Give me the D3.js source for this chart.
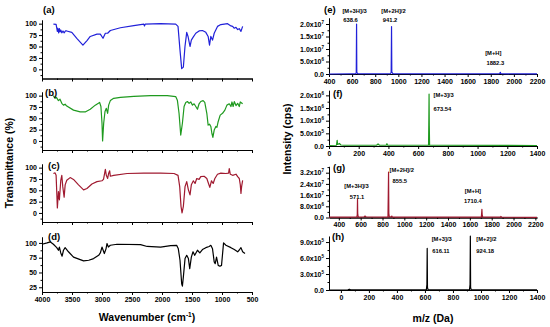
<!DOCTYPE html>
<html><head><meta charset="utf-8">
<script src="https://cdn.jsdelivr.net/npm/d3@7"></script>
<style>
body{margin:0;background:#fff}
svg text{font-family:"Liberation Sans",Arial,sans-serif;font-weight:bold;fill:#000}
</style>
</head><body>
<svg id="c" width="550" height="327"></svg>
<script>
// ---------- IR (FTIR) data: wavenumber (cm-1) and transmittance (%) ----------
const irA_wn = [3810,3765,3744,3735,3722,3710,3698,3687,3670,3650,3630,3610,3587,3503,3420,3318,3250,3196,3084,3028,2983,2944,2906,2861,2693,2470,2303,2292,2280,2023,1772,1733,1700,1672,1644,1617,1588,1566,1533,1511,1483,1437,1382,1326,1270,1231,1208,1186,1158,1130,1075,1019,907,851,823,795,767,739,712,684,656];
const irA_t  = [99,98.5,83,90,80,89,82,86,80,84,80,84,84,81,68,53,63,72,77,77,68,79,79,85,91,95.5,99,95,99,100,99,94,42,1.5,5,50,81,72,50,64,70,79,84,85,81,72,53,72,64,79,94,98,100,95,94,90,92,87,89,83,94];

const irB_wn = [3810,3782,3760,3726,3700,3670,3642,3615,3587,3475,3363,3280,3196,3112,3040,3018,3000,2990,2972,2950,2928,2906,2889,2861,2805,2693,2470,2191,1912,1772,1744,1716,1688,1660,1632,1604,1576,1548,1520,1492,1465,1437,1409,1382,1354,1315,1287,1253,1231,1208,1186,1169,1152,1130,1102,1085,1063,1030,991,952,918,879,851,834,815,795,767,739,712,695,656];
const irB_t  = [100,94,96,89,92,83,79,81,77,68,64,64,70,79,85,76,39,0,39,65,72,61,79,89,94,96,98.5,100,100,98,90,61,13,39,76,85,87,83,86,79,82,76,70,82,87,89,85,61,35,37,32,17,8,24,32,30,43,57,61,68,79,82,76,86,76,87,78,83,76,86,82];

const irC_wn = [3810,3782,3765,3744,3726,3710,3687,3670,3654,3631,3614,3587,3531,3475,3391,3307,3251,3168,3084,3000,2975,2944,2928,2906,2890,2872,2861,2805,2582,2303,2023,1800,1733,1705,1683,1666,1644,1616,1588,1560,1533,1511,1477,1449,1421,1382,1354,1298,1253,1225,1203,1175,1147,1119,1075,1019,935,890,879,862,823,767,739,712,695,684,673,656];
const irC_t  = [87,88.4,83,11,47,29,72,83,58,35,62,72,78,74,62,51,54,64,69,71,74,96,83,76,87,93,81,83,87,88,88,87,83,58,14.5,0,14.5,58,69,51,40,62,71,65,76,74,80,81,76,65,56.5,71,65,76,85.5,88,87,88,98,85.5,83,85.5,80,76,62,43,58,72];

const irD_wn = [4000,3916,3860,3810,3754,3726,3710,3687,3665,3642,3614,3559,3475,3307,3220,3140,3056,3028,3000,2961,2933,2917,2894,2861,2749,2358,2247,2023,1856,1756,1728,1700,1672,1660,1644,1616,1588,1560,1538,1511,1483,1455,1409,1370,1326,1270,1214,1186,1158,1130,1113,1091,1063,1035,1008,974,935,851,795,739,712,684,656,617];
const irD_t  = [97.7,100,101.7,97.7,92,87.6,93,83,77.5,87.6,92,85,76,69.6,70.7,73.5,79,83,93,82,90,99,93,96,97.7,97,94,93,95.5,96,90,70.7,31,27,42.5,73.5,79,73.5,56.6,76,85,79,87.6,83,88.7,92,94,96,90,68,65,76,62,60.6,62,100,96,92,88.7,85,88,92,85,82];

// ---------- Mass spectra data: m/z (Da) and intensity (cps) ----------
const msE_mz  = [400,600,630,636,638.6,640.5,644,650,930,938,941.2,943.5,948,955,1870,1878,1882.3,1886,1895,2200];
const msE_int = [0,1e5,1e5,5e5,2.0e7,6e5,4e5,1e5,1e5,6e5,1.9e7,8e5,4e5,1e5,1e5,2e5,7e5,2e5,1e5,5e4];

const msF_mz  = [0,50,55,58,70,80,100,320,330,340,385,390,395,670,672,673.54,675,677,1400];
const msF_int = [2e4,3e4,2.2e5,6e4,1e5,4e4,3e4,3e4,8e4,3e4,3e4,9e4,3e4,3e4,1.0e6,2.05e6,8e5,3e4,2e4];

const msG_mz  = [310,565,569,571.1,573,576,580,630,640,650,850,853,855.5,858,862,880,885,890,1705,1708,1710.4,1713,1718,1880,1885,1890,2215];
const msG_int = [2e5,3e5,2e6,1.3e7,3e6,1e6,3e5,4e5,1e6,4e5,3e5,1.7e7,3.25e7,3e6,5e5,4e5,1e6,3e5,3e5,3e6,5.9e6,2e6,3e5,3e5,8e5,2e5,1e5];

const msH_mz  = [-85,50,60,70,300,610,614,616.11,618,622,918,922,924.18,926,930,1400];
const msH_int = [0,5e3,1.5e4,5e3,5e3,5e3,1e5,7.8e5,5e4,5e3,5e3,1e5,1.01e6,5e4,5e3,3e3];

// tick labels
const irYTicks = [0,25,50,75,100];
const irXTicks = [4000,3500,3000,2500,2000,1500,1000,500];
const eYTicks = [[0,"0.0",""],[5e6,"5.0x10","6"],[1e7,"1.0x10","7"],[1.5e7,"1.5x10","7"],[2e7,"2.0x10","7"]];
const fYTicks = [[0,"0.0",""],[5e5,"5.0x10","5"],[1e6,"1.0x10","6"],[1.5e6,"1.5x10","6"],[2e6,"2.0x10","6"]];
const gYTicks = [[0,"0.0",""],[8e6,"8.0x10","6"],[1.6e7,"1.6x10","7"],[2.4e7,"2.4x10","7"],[3.2e7,"3.2x10","7"]];
const hYTicks = [[0,"0.0",""],[3e5,"3.0x10","5"],[6e5,"6.0x10","5"],[9e5,"9.0x10","5"]];
const mzTicksWide = [400,600,800,1000,1200,1400,1600,1800,2000,2200];
const mzTicksNarrow = [0,200,400,600,800,1000,1200,1400];

const svg = d3.select("#c");
const TICK_FS = 7;
const fmtInt = d3.format("d");

function styleAxis(g){
  g.selectAll("path.domain").attr("stroke","#000").attr("stroke-width",1);
  g.selectAll(".tick line").attr("stroke","#000").attr("stroke-width",1);
  g.selectAll(".tick text").attr("font-size",TICK_FS).attr("font-family",null);
  g.attr("font-family",null);
}

// ---------- IR panels ----------
const irX = d3.scaleLinear().domain([4000,500]).range([42,252]);
const irPanels = [
  {wn:irA_wn,t:irA_t,color:"#2121d9",domain:[-20,108],range:[78.5,20],yt:irYTicks,label:"(a)",lx:43,ly:12.5,showX:false},
  {wn:irB_wn,t:irB_t,color:"#1f9a1f",domain:[-20,108],range:[150,92],yt:irYTicks,label:"(b)",lx:45,ly:95.5,showX:false},
  {wn:irC_wn,t:irC_t,color:"#a01a30",domain:[-20,108],range:[222,164],yt:irYTicks,label:"(c)",lx:48,ly:169,showX:false},
  {wn:irD_wn,t:irD_t,color:"#000000",domain:[17,110],range:[292,237],yt:[25,50,75,100],label:"(d)",lx:48,ly:240,showX:true}
];
irPanels.forEach(p=>{
  const y = d3.scaleLinear().domain(p.domain).range(p.range);
  const yb = p.range[0];
  const minorY = d3.range(-12.5,110,25).filter(v=>v>p.domain[0]&&v<p.domain[1]);
  svg.append("g").attr("transform","translate(42,0)")
    .call(d3.axisLeft(y).tickValues(minorY).tickSize(1.5).tickFormat("").tickSizeOuter(0)).call(styleAxis);
  svg.append("g").attr("transform","translate(42,0)")
    .call(d3.axisLeft(y).tickValues(p.yt).tickSize(3).tickPadding(2).tickFormat(fmtInt).tickSizeOuter(0)).call(styleAxis);
  svg.append("g").attr("transform",`translate(0,${yb})`)
    .call(d3.axisBottom(irX).tickValues(d3.range(3750,500,-500)).tickSize(1.5).tickFormat("").tickSizeOuter(0)).call(styleAxis);
  const xa = d3.axisBottom(irX).tickValues(irXTicks).tickSize(3).tickPadding(2).tickSizeOuter(0)
    .tickFormat(p.showX ? fmtInt : "");
  svg.append("g").attr("transform",`translate(0,${yb})`).call(xa).call(styleAxis);
  const pts = p.wn.map((w,i)=>[w,p.t[i]]);
  svg.append("path").datum(pts)
    .attr("fill","none").attr("stroke",p.color).attr("stroke-width",1.2).attr("stroke-linejoin","round")
    .attr("d",d3.line().x(d=>irX(d[0])).y(d=>y(d[1])));
  svg.append("text").attr("x",p.lx).attr("y",p.ly).attr("font-size",9.5).text(p.label);
});

// ---------- MS panels ----------
const msPanels = [
  {mz:msE_mz,it:msE_int,color:"#2121d9",xd:[400,2200],yd:[0,2.24e7],yr:[74,18],yt:eYTicks,xt:mzTicksWide,label:"(e)",lx:324,ly:13,
   ann:[["[M+3H]/3",-2,12.5,"middle"],["638.6",-6,22,"middle"],["[M+2H]/2",2,12.5,"middle"],["941.2",-1.5,22,"middle"],["[M+H]",-7,55,"middle"],["1882.3",-5,65,"middle"]],
   annPk:[638.6,638.6,941.2,941.2,1882.3,1882.3]},
  {mz:msF_mz,it:msF_int,color:"#1f9a1f",xd:[0,1400],yd:[0,2.2e6],yr:[146,90.3],yt:fYTicks,xt:mzTicksNarrow,label:"(f)",lx:333,ly:97,
   ann:[["[M+3]/3",4.5,97,"start"],["673.54",4.5,110.5,"start"]],annPk:[673.54,673.54]},
  {mz:msG_mz,it:msG_int,color:"#a01a30",xd:[310,2215],yd:[0,3.65e7],yr:[217.5,166.4],yt:gYTicks,xt:mzTicksWide,label:"(g)",lx:333,ly:171,
   ann:[["[M+3H]/3",-1,188,"middle"],["571.1",-0.5,198.5,"middle"],["[M+2H]/2",1,171.5,"start"],["855.5",4,182.5,"start"],["[M+H]",-9,192.5,"middle"],["1710.4",-9,202.5,"middle"]],
   annPk:[571.1,571.1,855.5,855.5,1710.4,1710.4]},
  {mz:msH_mz,it:msH_int,color:"#000000",xd:[-85,1400],yd:[0,1.01e6],yr:[290,236.2],yt:hYTicks,xt:mzTicksNarrow,label:"(h)",lx:332,ly:240,
   ann:[["[M+3]/3",4.5,240.5,"start"],["616.11",5,253,"start"],["[M+2]/2",6,240.5,"start"],["924.18",6,253,"start"]],
   annPk:[616.11,616.11,924.18,924.18]}
];
msPanels.forEach(p=>{
  const x = d3.scaleLinear().domain(p.xd).range([329,537]);
  const y = d3.scaleLinear().domain(p.yd).range(p.yr);
  const yb = p.yr[0];
  const step = p.yt[1][0];
  const minorY = d3.range(step/2,p.yd[1],step);
  svg.append("g").attr("transform","translate(329,0)")
    .call(d3.axisLeft(y).tickValues(minorY).tickSize(1.5).tickFormat("").tickSizeOuter(0)).call(styleAxis);
  const yg = svg.append("g").attr("transform","translate(329,0)")
    .call(d3.axisLeft(y).tickValues(p.yt.map(d=>d[0])).tickSize(3).tickPadding(2).tickFormat(()=>"").tickSizeOuter(0)).call(styleAxis);
  yg.selectAll(".tick text").each(function(d){
    const lab = p.yt.find(e=>e[0]===d);
    const s = d3.select(this);
    s.text(lab[1]);
    if(lab[2]) s.append("tspan").attr("dy",-3).attr("font-size",4.5).text(lab[2]);
  });
  const minorX = d3.range(p.xt[0]+100,p.xd[1],200).filter(v=>v>p.xd[0]);
  svg.append("g").attr("transform",`translate(0,${yb})`)
    .call(d3.axisBottom(x).tickValues(minorX).tickSize(1.5).tickFormat("").tickSizeOuter(0)).call(styleAxis);
  svg.append("g").attr("transform",`translate(0,${yb})`)
    .call(d3.axisBottom(x).tickValues(p.xt).tickSize(3).tickPadding(2).tickFormat(fmtInt).tickSizeOuter(0)).call(styleAxis);
  const pts = p.mz.map((m,i)=>[m,p.it[i]]);
  svg.append("path").datum(pts)
    .attr("fill","none").attr("stroke",p.color).attr("stroke-width",1.2).attr("stroke-linejoin","round")
    .attr("d",d3.line().x(d=>x(d[0])).y(d=>y(d[1])));
  svg.append("text").attr("x",p.lx).attr("y",p.ly).attr("font-size",9.5).text(p.label);
  p.ann.forEach((a,i)=>{
    svg.append("text").attr("x",x(p.annPk[i])+a[1]).attr("y",a[2])
      .attr("text-anchor",a[3]).attr("font-size",5.8).text(a[0]);
  });
});

// ---------- axis titles ----------
const wt = svg.append("text").attr("x",147).attr("y",321).attr("text-anchor","middle").attr("font-size",10.5);
wt.append("tspan").text("Wavenumber (cm");
wt.append("tspan").attr("dy",-4).attr("font-size",6.5).text("-1");
wt.append("tspan").attr("dy",4).text(")");
svg.append("text").attr("x",433).attr("y",322).attr("text-anchor","middle").attr("font-size",10.5).text("m/z (Da)");
svg.append("text").attr("transform","translate(13,163) rotate(-90)").attr("text-anchor","middle").attr("font-size",10.5).text("Transmittance (%)");
svg.append("text").attr("transform","translate(291,139) rotate(-90)").attr("text-anchor","middle").attr("font-size",10.5).text("Intensity (cps)");
</script>
</body></html>
